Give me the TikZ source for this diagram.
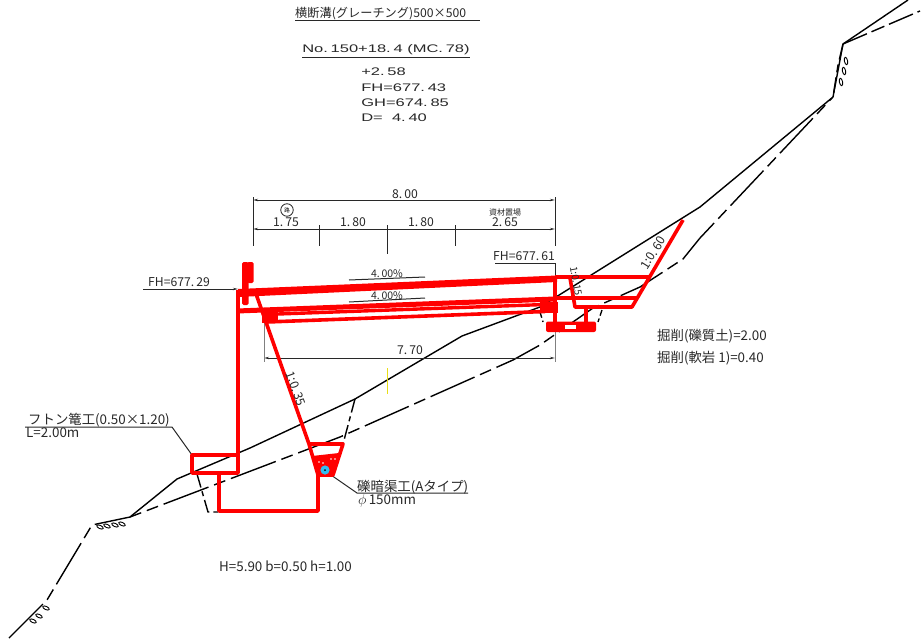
\documentclass[tikz,border=0pt]{standalone}
\usepackage{fontspec}
\setmainfont{Liberation Sans}
\newfontfamily\jp{Noto Sans CJK JP}
\usetikzlibrary{arrows.meta}
\definecolor{rd}{RGB}{255,0,0}
\definecolor{ink}{RGB}{40,40,40}
\tikzset{
 rline/.style={draw=rd,line width=3.6pt,line join=round},
 gnd/.style={draw=black,line width=1.4pt},
 gndd/.style={draw=black,line width=1.4pt,dash pattern=on 48pt off 6pt on 12pt off 6pt},
 dimline/.style={draw=ink,line width=1pt},
 tick/.style={draw=ink,line width=1pt},
 tipa/.style={-{Stealth[length=5pt,width=2.4pt]}},
 lbl/.style={inner sep=0pt,text=ink,font=\jp\fontsize{12.2}{13}\selectfont},
 lbll/.style={lbl,anchor=west,font=\jp\fontsize{13.4}{14}\selectfont},
 wide/.style={inner sep=0pt,anchor=west,text=ink,font=\fontsize{11}{12}\selectfont,xscale=1.5,transform shape},
 pebble/.style={draw=black,line width=.9pt},
}
\begin{document}
\begin{tikzpicture}[x=1pt,y=-1pt]
\useasboundingbox (0,0) rectangle (923,642);
% ground
\draw[gnd] (130,517) -- (177,479) -- (250,448) -- (355,399) -- (462,336) -- (540,307) -- (700,207) -- (833,97) -- (843,44) -- (908,0);
\draw[gndd] (9,638) -- (47,600) -- (92,525) -- (130,517) -- (340,437) -- (513,360) -- (540,345) -- (593,308) -- (640,287) -- (683,259) -- (700,238) -- (832,98);
\draw[gnd,dash pattern=on 26pt off 5pt on 14pt off 5pt] (843,44) -- (920,11);
\draw[gnd,dash pattern=on 16pt off 5pt on 8pt off 5pt] (843,44) -- (838,65) -- (833,97);
% pebbles
\foreach \p in {(100,527),(107,526),(115,525),(122,524),(33,621),(39,616),(46,608)} \draw[pebble] \p ellipse [x radius=3.5,y radius=1.6,rotate=-25];
\foreach \p in {(846,61),(844,71),(841,82)} \draw[pebble] \p ellipse [x radius=1.6,y radius=3.8,rotate=12];
% excavation dashed
\draw[gnd,dash pattern=on 14pt off 4pt on 5pt off 4pt] (355,399) -- (343,444);
\draw[gnd,dash pattern=on 14pt off 4pt on 5pt off 4pt] (197,474) -- (208,512) -- (219,512);
\draw[gnd,dash pattern=on 6pt off 3pt] (540,312) -- (543,322);
\draw[gnd,dash pattern=on 6pt off 3pt] (602,310) -- (598,322);
\draw[draw=yellow!90!black,line width=1pt] (387,368) -- (387,394);
% dimensions
\draw[dimline,tipa] (320,200) -- (253,200);
\draw[dimline,tipa] (500,200) -- (555,200);
\draw[dimline] (320,200) -- (500,200);
\draw[dimline,tipa] (280,229) -- (253,229);
\draw[dimline,tipa] (520,229) -- (555,229);
\draw[dimline] (280,229) -- (520,229);
\draw[tick] (253,197) -- (253,246);
\draw[tick] (555,197) -- (555,246);
\draw[tick] (319,225) -- (319,246);
\draw[tick] (387,225) -- (387,254);
\draw[tick] (455,225) -- (455,246);
\draw[dimline,tipa] (300,358) -- (264,358);
\draw[dimline,tipa] (500,358) -- (555,358);
\draw[dimline] (300,358) -- (500,358);
\draw[tick,gray] (264,322) -- (264,362);
\draw[tick,gray] (555,330) -- (555,362);
\draw[dimline,tipa] (143,289) -- (238,289);
\draw[dimline] (495,263) -- (555,263) -- (555,277);
\draw[dimline] (349,280) -- (425,277);
\draw[dimline] (349,302) -- (425,298);
% leaders
\draw[dimline] (25,427) -- (172,427) -- (192,455);
\draw[dimline] (331,475) -- (357,493) -- (468,493);
\draw[dimline] (302,58) -- (470,58);
\draw[dimline] (295,20.5) -- (480,20.5);
% red structure: road
\fill[rd] (238,289) -- (557,275.5) -- (557,282) -- (238,297) -- cycle;
\draw[rline,line width=5pt] (237,311) -- (555,299);
\draw[rline,line width=3.4pt] (278,314) -- (545,304.5);
\draw[rline,line width=3.6pt] (267,322) -- (545,311.5);
\fill[rd] (262,311) rectangle (278,323);
\fill[rd] (540,302) rectangle (558,313);
% guard
\fill[rd,rounded corners=1.5pt] (242,262) rectangle (248.5,305);
\fill[rd,rounded corners=1.5pt] (247,262) rectangle (253.5,283);
% wall and footing
\draw[rline] (238,290) -- (238,473);
\draw[rline] (192,455) rectangle (238,473);
\draw[rline] (219,473) -- (219,511) -- (318,511) -- (318,475);
\draw[rline] (255,291) -- (309,444);
% drain
\draw[rline] (309,444) -- (343,444) -- (333,475) -- (318,475) -- cycle;
\fill[rd] (312,456) -- (339,453) -- (333,475) -- (318,475) -- cycle;
\foreach \p in {(319,462),(323,463),(331,459),(335,459)} \fill[white] \p circle (.8);
\fill[cyan!80!white] (325,470) circle (4.6);
\fill[black] (325,470) circle (1);
% right side
\draw[rline] (555,277) -- (555,325);
\draw[rline] (555,277) -- (650,277);
\draw[rline] (683,220) -- (632,307) -- (575,307) -- (570,278);
\draw[rline] (555,298) -- (638,298);
\draw[rline] (586,308) -- (586,322);
\fill[rd,rounded corners=2pt] (546,321.5) rectangle (596,332);
\fill[white] (565,325) rectangle (576,329);
% labels
\node[lbl] (t8) at (405,194) {8.\,00};
\node[lbl] (d1) at (286,222) {1.\,75};
\node[lbl] (d2) at (353,222) {1.\,80};
\node[lbl] (d3) at (421,222) {1.\,80};
\node[lbl] (d4) at (505,222) {2.\,65};
\node[lbl,font=\jp\fontsize{8}{9}\selectfont] (zai) at (505,212) {資材置場};
\node[draw=ink,circle,line width=.8pt,inner sep=0pt,minimum size=12.5pt,font=\jp\fontsize{5.5}{6}\selectfont] (ho) at (287,210) {路};
\node[lbl] (fh1) at (179,282) {FH=677.\,29};
\node[lbl] (fh2) at (524,256) {FH=677.\,61};
\node[lbl,font=\jp\fontsize{10.5}{11}\selectfont] (p1) at (387,274) {4.\,00\%};
\node[lbl,font=\jp\fontsize{10.5}{11}\selectfont] (p2) at (387,296) {4.\,00\%};
\node[lbl] (w) at (410,350) {7.\,70};
\node[lbl,rotate=-70] (s1) at (296,389) {1:0.\,35};
\node[lbl,rotate=58] (s2) at (653,253) {1:0.\,60};
\node[lbl,rotate=-80,font=\jp\fontsize{10}{11}\selectfont] (s3) at (576,281) {1:0.\,15};
\node[lbll] (f1) at (28,420) {フトン篭工(0.50×1.20)};
\node[lbll] (f2) at (26,433) {L=2.00m};
\node[lbll] (g1) at (357,487) {礫暗渠工(Aタイプ)};
\node[lbll] (g2) at (358,501) {$\phi$\,150mm};
\node[lbll] (h) at (219,566) {H=5.90 b=0.50 h=1.00};
\node[lbll] (k1) at (657,336) {掘削(礫質土)=2.00};
\node[lbll] (k2) at (657,358) {掘削(軟岩 1)=0.40};
\node[lbll,font=\jp\fontsize{12.2}{13}\selectfont] (ttl) at (295,14) {横断溝(グレーチング)500×500};
\node[wide] (no) at (302,50) {No.\,150+18.\,4 (MC.\,78)};
\node[wide] (a1) at (361,72) {+2.\,58};
\node[wide] (a2) at (361,88) {FH=677.\,43};
\node[wide] (a3) at (361,103) {GH=674.\,85};
\node[wide] (a4) at (361,118) {D=\ \ 4.\,40};
\end{tikzpicture}
\end{document}
